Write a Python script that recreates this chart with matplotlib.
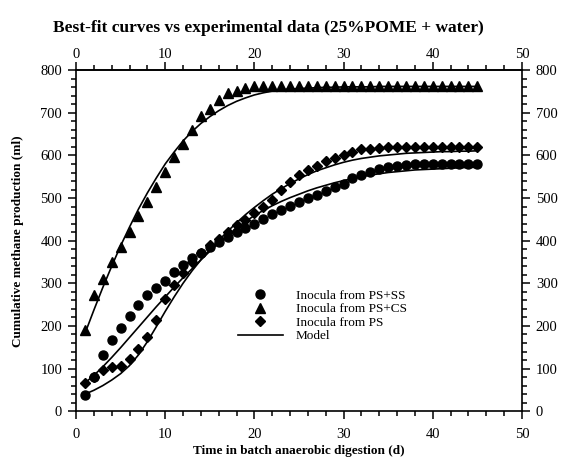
import matplotlib
matplotlib.use('Agg')
import matplotlib.pyplot as plt
from matplotlib.ticker import MultipleLocator, FixedLocator

plt.rcParams['font.family'] = ['Liberation Serif', 'DejaVu Serif']

days = list(range(1, 46))

# measured points (ml)
ps_ss = [37, 80, 131, 168, 196, 224, 248, 272, 290, 306, 326, 342, 359, 371, 385,
         396, 408, 420, 430, 440, 451, 462, 472, 481, 491, 500, 508, 516, 525, 534,
         546, 554, 562, 569, 572, 576, 578, 580, 580, 580, 580, 580, 580, 580, 580]
ps_cs = [190, 272, 311, 350, 385, 421, 458, 491, 527, 561, 597, 628, 660, 692, 710,
         730, 746, 751, 759, 762, 762, 762, 762, 762, 762, 762, 762, 762, 762, 762,
         762, 762, 762, 762, 762, 762, 762, 762, 762, 762, 762, 762, 762, 762, 762]
ps = [65, 80, 96, 103, 106, 122, 145, 173, 215, 264, 297, 325, 350, 372, 390,
      405, 421, 437, 448, 464, 478, 495, 519, 538, 555, 566, 575, 586, 595, 602,
      609, 614, 616, 618, 619, 620, 620, 620, 620, 620, 620, 620, 620, 620, 620]

# model curves
model_ss = [66, 84, 104, 126, 149, 173, 197, 221, 245, 268, 291, 313, 334, 355, 375,
            394, 412, 429, 445, 459, 471, 482, 492, 501, 509, 517, 524, 530, 536, 541,
            546, 550, 554, 557, 560, 562, 564, 566, 567, 568, 569, 570, 571, 572, 572]
model_cs = [182, 237, 290, 340, 388, 432, 474, 512, 547, 580, 608, 634, 656, 675, 691,
            705, 717, 727, 735, 742, 747, 751, 754, 756, 757, 758, 759, 760, 760, 761,
            761, 761, 761, 762, 762, 762, 762, 762, 762, 762, 762, 762, 762, 762, 762]
model_ps = [40, 49, 60, 73, 88, 107, 132, 163, 198, 234, 268, 300, 329, 355, 379,
            401, 422, 442, 461, 478, 494, 509, 522, 534, 545, 555, 564, 571, 578, 584,
            589, 593, 596, 599, 601, 603, 605, 606, 607, 608, 609, 609, 610, 610, 611]

x_major = [0, 10, 20, 30, 40, 50]
x_minor = list(range(0, 51, 2))

fig = plt.figure(figsize=(5.63, 4.62), dpi=100)
ax = fig.add_axes([0.135, 0.11, 0.792, 0.738])

ax.plot(days, ps_ss, 'o', color='black', markersize=6.5, label='Inocula from PS+SS')
ax.plot(days, ps_cs, '^', color='black', markersize=7, label='Inocula from PS+CS')
ax.plot(days, ps, 'D', color='black', markersize=5, label='Inocula from PS')
ax.plot(days, model_ss, '-', color='black', linewidth=1.2, label='Model')
ax.plot(days, model_cs, '-', color='black', linewidth=1.2)
ax.plot(days, model_ps, '-', color='black', linewidth=1.2)

ax.set_xlim(0, 50)
ax.set_ylim(0, 800)
ax.xaxis.set_major_locator(FixedLocator(x_major))
ax.xaxis.set_minor_locator(FixedLocator(x_minor))
ax.yaxis.set_major_locator(MultipleLocator(100))
ax.yaxis.set_minor_locator(MultipleLocator(20))
ax.tick_params(which='both', direction='out', right=True, labelright=True,
               labelsize=10.5, width=1.1)
ax.tick_params(which='major', length=6, pad=4)
ax.tick_params(which='minor', length=3.5)
ax.tick_params(axis='x', which='major', pad=6)

# top axis with its own (tighter) label padding
top = ax.secondary_xaxis('top')
top.xaxis.set_major_locator(FixedLocator(x_major))
top.xaxis.set_minor_locator(FixedLocator(x_minor))
top.tick_params(which='both', direction='out', labelsize=10.5, width=1.1)
top.tick_params(which='major', length=6, pad=1)
top.tick_params(which='minor', length=3.5)
top.spines['top'].set_linewidth(1.2)
for s in ax.spines.values():
    s.set_linewidth(1.2)

ax.set_xlabel('Time in batch anaerobic digestion (d)', fontsize=9.5, fontweight='bold', labelpad=3)
ax.set_ylabel('Cumulative methane production (ml)', fontsize=9.5, fontweight='bold', labelpad=12)
fig.text(0.476, 0.94, 'Best-fit curves vs experimental data (25%POME + water)', fontsize=12.5,
         fontweight='bold', ha='center', va='center')

ax.legend(loc='upper left', bbox_to_anchor=(0.348, 0.376), frameon=False, fontsize=9.5,
          handlelength=3.4, handletextpad=1.0, labelspacing=0.1, borderpad=0)

fig.savefig('out.png', dpi=100)
